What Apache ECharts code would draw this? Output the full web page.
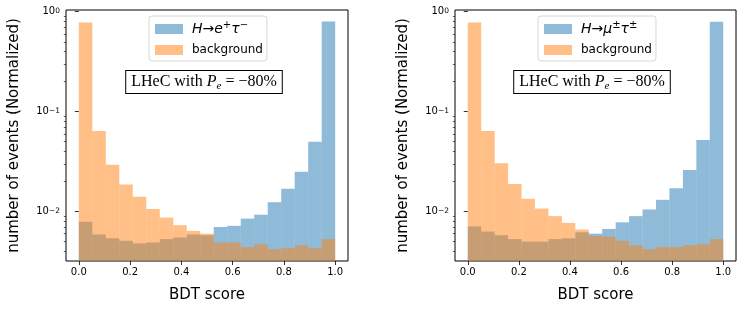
<!DOCTYPE html>
<html>
<head>
<meta charset="utf-8">
<script src="https://cdn.jsdelivr.net/npm/echarts@6/dist/echarts.min.js"></script>
<style>
  html, body { margin: 0; padding: 0; background: #fff; }
  #chart { width: 748px; height: 316px; }
</style>
</head>
<body>
<div id="chart"></div>
<script>
// ---- data (normalized histogram, 19 bins on [0,1]) ----
const nBins = 19;
const binEdges = Array.from({ length: nBins + 1 }, (_, i) => i / nBins);

const sigE = [0.0079, 0.0059, 0.0054, 0.0051, 0.0048, 0.0049, 0.0053, 0.0055, 0.0059, 0.0058,
              0.0070, 0.0072, 0.0085, 0.0093, 0.0124, 0.0169, 0.0250, 0.0500, 0.80];
const bkgE = [0.78, 0.064, 0.0294, 0.0186, 0.0141, 0.0106, 0.0087, 0.0073, 0.0064, 0.0060,
              0.0049, 0.0049, 0.0044, 0.0047, 0.0042, 0.0043, 0.0046, 0.0043, 0.0053];

const sigMu = [0.0071, 0.0063, 0.0058, 0.0053, 0.0050, 0.0050, 0.0053, 0.0054, 0.0062, 0.0060,
               0.0067, 0.0078, 0.0090, 0.0105, 0.0131, 0.0171, 0.0260, 0.0520, 0.795];
const bkgMu = [0.78, 0.064, 0.0305, 0.0189, 0.0134, 0.0107, 0.0090, 0.0077, 0.0066, 0.0057,
               0.0056, 0.0051, 0.0046, 0.0042, 0.0044, 0.0044, 0.0046, 0.0047, 0.0053];

const xTicks = [0.0, 0.2, 0.4, 0.6, 0.8, 1.0];
const yMajor = [0.01, 0.1, 1];
const yMajorLabels = ['10{s|−2}', '10{s|−1}', '10{s|0}'];
const yMinor = [0.004, 0.005, 0.006, 0.007, 0.008, 0.009,
                0.02, 0.03, 0.04, 0.05, 0.06, 0.07, 0.08, 0.09,
                0.2, 0.3, 0.4, 0.5, 0.6, 0.7, 0.8, 0.9];
const Y_MIN = 0.0032, Y_MAX = 1.04;
const X_MIN = -0.05, X_MAX = 1.05;

const C_SIG = 'rgba(31,119,180,0.5)';
const C_BKG = 'rgba(255,127,14,0.5)';
const FONT = 'DejaVu Sans';

function toData(vals) {
  return vals.map((v, i) => [binEdges[i], binEdges[i + 1], v]);
}
function makeRender(color) {
  return function (params, api) {
    const lo = api.value(0), hi = api.value(1), v = api.value(2);
    const pTop = api.coord([lo, v]);
    const pBot = api.coord([hi, Y_MIN]);
    return {
      type: 'rect',
      shape: { x: pTop[0], y: pTop[1], width: pBot[0] - pTop[0], height: pBot[1] - pTop[1] },
      style: { fill: color }
    };
  };
}

const grids = [
  { left: 66, top: 10, width: 282, height: 251 },
  { left: 455, top: 10, width: 281, height: 251 }
];

function xAxisFor(gi) {
  return {
    type: 'value', gridIndex: gi, min: X_MIN, max: X_MAX,
    name: 'BDT score', nameLocation: 'middle', nameGap: 27,
    nameTextStyle: { fontFamily: FONT, fontSize: 15, color: '#000' },
    axisLine: { show: false },
    splitLine: { show: false },
    axisTick: { show: true, length: 4, lineStyle: { color: '#000', width: 0.8 }, customValues: xTicks },
    axisLabel: { fontFamily: FONT, fontSize: 10, color: '#000', margin: 6,
                 customValues: xTicks, formatter: v => v.toFixed(1) }
  };
}
function yMajorFor(gi) {
  return {
    type: 'log', logBase: 10, gridIndex: gi, min: Y_MIN, max: Y_MAX, position: 'left',
    name: 'number of events (Normalized)', nameLocation: 'middle', nameGap: 44,
    nameTextStyle: { fontFamily: FONT, fontSize: 15, color: '#000' },
    axisLine: { show: false },
    splitLine: { show: false },
    axisTick: { show: true, length: 4, lineStyle: { color: '#000', width: 0.8 }, customValues: yMajor },
    axisLabel: {
      fontFamily: FONT, fontSize: 10, color: '#000', margin: 6,
      customValues: yMajor,
      formatter: function (v) {
        const i = yMajor.findIndex(t => Math.abs(Math.log10(t) - Math.log10(v)) < 1e-6);
        return i >= 0 ? yMajorLabels[i] : '';
      },
      rich: {
        s: { fontFamily: FONT, fontSize: 7.5, verticalAlign: 'top', lineHeight: 8, color: '#000' }
      }
    }
  };
}
function yMinorFor(gi) {
  return {
    type: 'log', logBase: 10, gridIndex: gi, min: Y_MIN, max: Y_MAX, position: 'left',
    axisLine: { show: false },
    splitLine: { show: false },
    axisTick: { show: true, length: 2.2, lineStyle: { color: '#000', width: 0.6 }, customValues: yMinor },
    axisLabel: { show: false }
  };
}

const legendRich = {
  g: { width: 4 },
  i: { fontFamily: FONT, fontStyle: 'italic', fontSize: 14, lineHeight: 18, color: '#000' },
  n: { fontFamily: FONT, fontSize: 14, lineHeight: 18, color: '#000' },
  su: { fontFamily: FONT, fontSize: 10, lineHeight: 10, verticalAlign: 'top', color: '#000' },
  b: { fontFamily: FONT, fontSize: 12, lineHeight: 18, color: '#000' }
};
const legendText = {
  sigE: '{g|}{i|H}{n|→}{i|e}{su|+}{i|τ}{su|−}',
  bkgE: '{g|}{b|background}',
  sigMu: '{g|}{i|H}{n|→}{i|μ}{su|±}{i|τ}{su|±}',
  bkgMu: '{g|}{b|background}'
};
function legendFor(names, left) {
  return {
    data: names, orient: 'vertical', left: left, top: 16,
    icon: 'rect', itemWidth: 28, itemHeight: 10, itemGap: 8,
    padding: [4, 4, 5, 6],
    backgroundColor: 'rgba(255,255,255,0.8)',
    borderColor: '#d6d6d6', borderWidth: 1, borderRadius: 3,
    selectedMode: false,
    formatter: n => legendText[n],
    textStyle: { rich: legendRich }
  };
}

const boxRich = {
  r: { fontFamily: 'Liberation Serif', fontSize: 16, lineHeight: 20, color: '#000' },
  p: { fontFamily: 'Liberation Serif', fontStyle: 'italic', fontSize: 16, lineHeight: 20, color: '#000' },
  e: { fontFamily: 'Liberation Serif', fontStyle: 'italic', fontSize: 11, lineHeight: 14, verticalAlign: 'bottom', color: '#000' }
};
function boxText(cx, cy) {
  return {
    type: 'text', x: cx, y: cy, z: 10,
    style: {
      text: '{r|LHeC with }{p|P}{e|e}{r| = −80%}',
      rich: boxRich,
      align: 'center', verticalAlign: 'middle',
      backgroundColor: '#fff', borderColor: '#000', borderWidth: 1,
      padding: [1, 5, 1, 5]
    }
  };
}

const option = {
  animation: false,
  backgroundColor: '#fff',
  grid: grids.map(g => Object.assign({ show: true, borderColor: '#000', borderWidth: 1, backgroundColor: 'transparent' }, g)),
  xAxis: [xAxisFor(0), xAxisFor(1)],
  yAxis: [yMajorFor(0), yMinorFor(0), yMajorFor(1), yMinorFor(1)],
  legend: [legendFor(['sigE', 'bkgE'], 149), legendFor(['sigMu', 'bkgMu'], 538)],
  series: [
    { name: 'sigE', type: 'custom', xAxisIndex: 0, yAxisIndex: 0, renderItem: makeRender(C_SIG),
      itemStyle: { color: C_SIG }, encode: { x: [0, 1], y: 2 }, data: toData(sigE) },
    { name: 'bkgE', type: 'custom', xAxisIndex: 0, yAxisIndex: 0, renderItem: makeRender(C_BKG),
      itemStyle: { color: C_BKG }, encode: { x: [0, 1], y: 2 }, data: toData(bkgE) },
    { name: 'sigMu', type: 'custom', xAxisIndex: 1, yAxisIndex: 2, renderItem: makeRender(C_SIG),
      itemStyle: { color: C_SIG }, encode: { x: [0, 1], y: 2 }, data: toData(sigMu) },
    { name: 'bkgMu', type: 'custom', xAxisIndex: 1, yAxisIndex: 2, renderItem: makeRender(C_BKG),
      itemStyle: { color: C_BKG }, encode: { x: [0, 1], y: 2 }, data: toData(bkgMu) }
  ],
  graphic: [boxText(204, 82), boxText(592, 82)]
};

const chart = echarts.init(document.getElementById('chart'), null, { renderer: 'canvas' });
chart.setOption(option);
</script>
</body>
</html>
